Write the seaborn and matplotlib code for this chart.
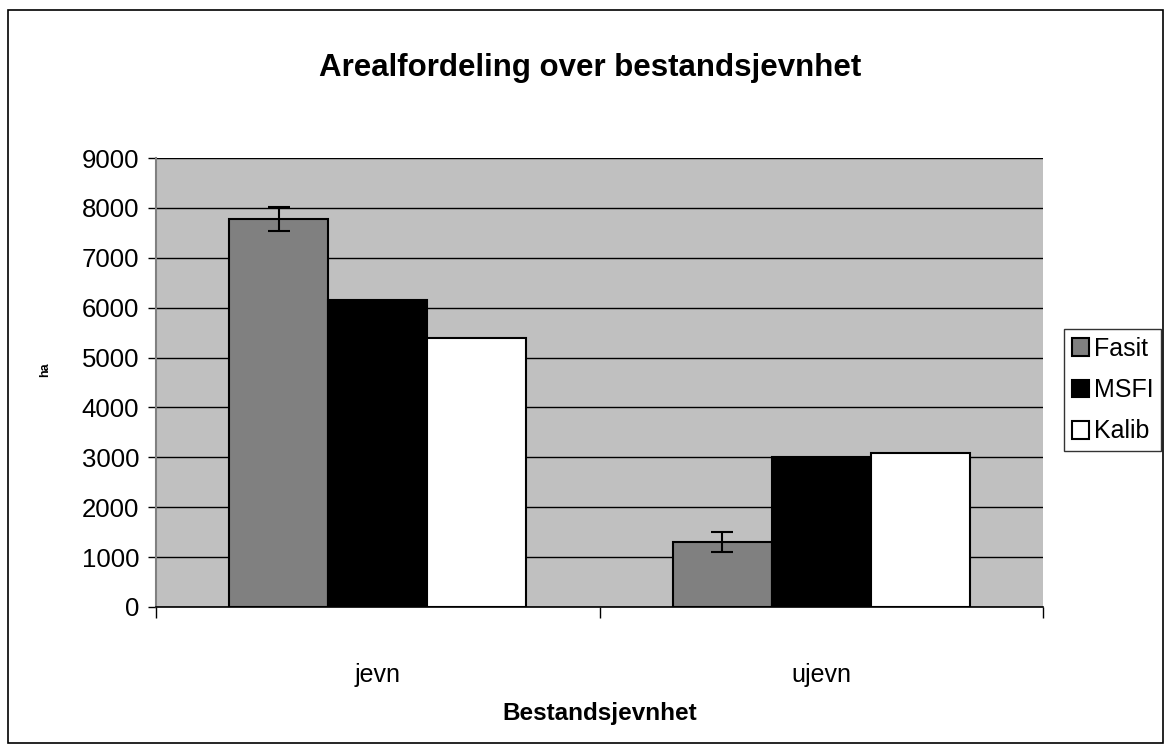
import numpy as np
import pandas as pd
import matplotlib
matplotlib.use("Agg")
import matplotlib.pyplot as plt
import seaborn as sns
from matplotlib.patches import Rectangle

# Data
kategorier = ["jevn", "ujevn"]
serier = ["Fasit", "MSFI", "Kalib"]
fasit = [7780, 1310]
msfi = [6150, 3000]
kalib = [5390, 3090]
fasit_feil = [240, 200]
farger = ["#808080", "#000000", "#FFFFFF"]

df = pd.DataFrame({
    "kategori": kategorier * 3,
    "serie": [s for s in serier for _ in kategorier],
    "ha": fasit + msfi + kalib,
})

sns.set_style("white")
plt.rcParams["font.family"] = ["Liberation Sans", "DejaVu Sans"]
plt.rcParams["text.color"] = "black"
plt.rcParams["axes.labelcolor"] = "black"
plt.rcParams["xtick.color"] = "black"
plt.rcParams["ytick.color"] = "black"

fig = plt.figure(figsize=(11.71, 7.51), dpi=100)
ax = fig.add_axes([156 / 1171, 1 - 607 / 751, (1043 - 156) / 1171, (607 - 158) / 751])
ax.set_facecolor("#C0C0C0")

sns.barplot(data=df, x="kategori", y="ha", hue="serie", hue_order=serier,
            order=kategorier, palette=farger, width=0.67, errorbar=None,
            edgecolor="black", linewidth=1.5, ax=ax, zorder=3)

# feilstolper paa Fasit
xs = [p.get_x() + p.get_width() / 2 for p in ax.containers[0]]
ax.errorbar(xs, fasit, yerr=fasit_feil, fmt="none", ecolor="black",
            elinewidth=1.5, capsize=8, capthick=1.5, zorder=4)

ax.set_ylim(0, 9000)
ax.set_xlim(-0.5, 1.5)
ax.set_yticks(np.arange(0, 9001, 1000))
ax.yaxis.grid(True, color="black", linewidth=1)
ax.set_axisbelow(True)
for s in ["top", "right"]:
    ax.spines[s].set_visible(False)
ax.spines["left"].set_color("#808080")
ax.spines["left"].set_linewidth(1.5)
ax.spines["bottom"].set_color("black")
ax.spines["bottom"].set_linewidth(1.2)

ax.tick_params(axis="y", length=6, width=1, direction="out", left=True,
               labelsize=18.5, pad=6)
ax.set_xticks([-0.5, 0.5, 1.5], minor=True)
ax.tick_params(axis="x", which="minor", length=8, width=1, direction="out", bottom=True)
ax.tick_params(axis="x", which="major", length=0, labelsize=18, pad=40)

ax.set_title("Arealfordeling over bestandsjevnhet", fontsize=22.5, fontweight="bold",
             pad=59, x=(590 - 156) / 887)
ax.set_xlabel("Bestandsjevnhet", fontsize=17.5, fontweight="bold", labelpad=11)
ax.set_ylabel("ha", fontsize=9, fontweight="bold")
ax.yaxis.set_label_coords(-0.118, 0.528)

leg = ax.legend(loc="center left", bbox_to_anchor=(1064 / 1171, 1 - 390 / 751),
                bbox_transform=fig.transFigure, fontsize=18, frameon=True,
                fancybox=False, edgecolor="black", handlelength=0.7,
                handleheight=0.7, handletextpad=0.2, labelspacing=0.7,
                borderpad=0.3, borderaxespad=0)
leg.get_frame().set_linewidth(1)
for h in leg.legend_handles:
    h.set_edgecolor("black")
    h.set_linewidth(1.5)

fig.patches.append(Rectangle((8 / 1171, 1 - 743 / 751), (1163 - 8) / 1171, (743 - 10) / 751,
                             transform=fig.transFigure, fill=False, edgecolor="black",
                             linewidth=1.2))

fig.savefig("out.png", dpi=100)
